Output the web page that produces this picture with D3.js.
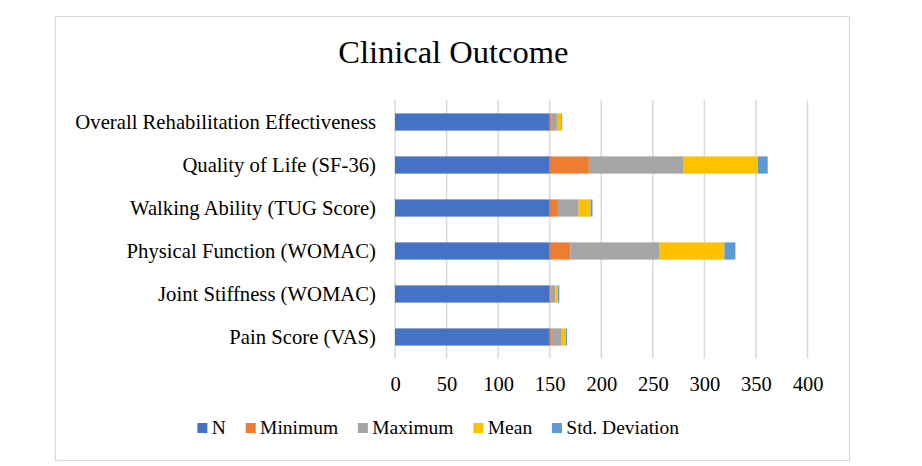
<!DOCTYPE html>
<html>
<head>
<meta charset="utf-8">
<script src="https://cdn.jsdelivr.net/npm/d3@7"></script>
<style>
  html, body { margin: 0; padding: 0; background: #fff; }
  svg { display: block; }
  text { font-family: "Liberation Serif", "Times New Roman", serif; fill: #000; }
</style>
</head>
<body>
<svg id="chart" width="922" height="466"></svg>
<script>
// ---- Data ----
const categories = [
  "Overall Rehabilitation Effectiveness",
  "Quality of Life (SF-36)",
  "Walking Ability (TUG Score)",
  "Physical Function (WOMAC)",
  "Joint Stiffness (WOMAC)",
  "Pain Score (VAS)"
];
const seriesNames = ["N", "Minimum", "Maximum", "Mean", "Std. Deviation"];
const nValues      = [150, 150, 150, 150, 150, 150];
const minValues    = [2, 38, 8, 20, 1, 2];
const maxValues    = [5, 92, 20, 86, 4.5, 9];
const meanValues   = [4.2, 72, 11.6, 63.4, 2.6, 4.5];
const sdValues     = [0.9, 9.4, 1.9, 10.7, 1.2, 1.3];
const xTicks = [0, 50, 100, 150, 200, 250, 300, 350, 400];
const colors = ["#4472C4", "#ED7D31", "#A5A5A5", "#FFC000", "#5B9BD5"];

const seriesValues = [nValues, minValues, maxValues, meanValues, sdValues];
const table = categories.map((c, i) => {
  const row = { category: c };
  seriesNames.forEach((s, j) => row[s] = seriesValues[j][i]);
  return row;
});

// ---- Layout ----
const svg = d3.select("#chart");
const plot = { left: 395, right: 807.5, top: 100.5, bottom: 358.5 };

// chart border
svg.append("rect")
  .attr("x", 55.5).attr("y", 16.5)
  .attr("width", 794).attr("height", 444)
  .attr("fill", "#fff").attr("stroke", "#d9d9d9").attr("stroke-width", 1.2);

// title
svg.append("text")
  .attr("x", 453.3).attr("y", 63.3)
  .attr("text-anchor", "middle")
  .style("font-size", "32.5px")
  .text("Clinical Outcome");

const x = d3.scaleLinear().domain([0, 400]).range([plot.left, plot.right]);
const y = d3.scaleBand().domain(categories).range([plot.top, plot.bottom])
  .paddingInner(0.6).paddingOuter(0.3);

// gridlines
svg.append("g").selectAll("line").data(xTicks).join("line")
  .attr("x1", d => x(d)).attr("x2", d => x(d))
  .attr("y1", plot.top - 0.5).attr("y2", plot.bottom)
  .attr("stroke", "#d9d9d9").attr("stroke-width", 1.5);

// bars
const stack = d3.stack().keys(seriesNames)(table);
svg.append("g").selectAll("g").data(stack).join("g")
  .attr("fill", (d, i) => colors[i])
  .selectAll("rect").data(d => d).join("rect")
  .attr("x", d => x(d[0]))
  .attr("width", d => x(d[1]) - x(d[0]))
  .attr("y", d => y(d.data.category))
  .attr("height", y.bandwidth());

// x-axis tick labels
const xAxis = d3.axisBottom(x).tickValues(xTicks).tickSize(0).tickPadding(0);
const gx = svg.append("g").attr("transform", `translate(0, 375)`).call(xAxis);
gx.select(".domain").remove();
gx.selectAll("text")
  .attr("dy", null).attr("y", 15.5)
  .style("font-family", "'Liberation Serif', 'Times New Roman', serif")
  .style("font-size", "20.5px").attr("fill", "#000");

// y-axis category labels
const yAxis = d3.axisLeft(y).tickSize(0).tickPadding(0);
const gy = svg.append("g").attr("transform", `translate(376, 0)`).call(yAxis);
gy.select(".domain").remove();
gy.selectAll("text")
  .attr("dy", "0.32em")
  .style("font-family", "'Liberation Serif', 'Times New Roman', serif")
  .style("font-size", "20.7px").attr("fill", "#000");

// legend
const legend = svg.append("g");
const items = legend.selectAll("g").data(seriesNames).join("g");
items.append("rect").attr("width", 10).attr("height", 10).attr("y", -5)
  .attr("fill", (d, i) => colors[i]);
items.append("text").attr("x", 14.4).attr("y", 6.3)
  .style("font-size", "19.5px").text(d => d);
let cx = 0;
const widths = [];
items.each(function () {
  const w = 14.4 + d3.select(this).select("text").node().getComputedTextLength();
  widths.push(w);
});
items.attr("transform", (d, i) => {
  const t = `translate(${cx}, 0)`;
  cx += widths[i] + 19.8;
  return t;
});
const total = cx - 19.8;
legend.attr("transform", `translate(${438.2 - total / 2}, 428)`);
</script>
</body>
</html>
